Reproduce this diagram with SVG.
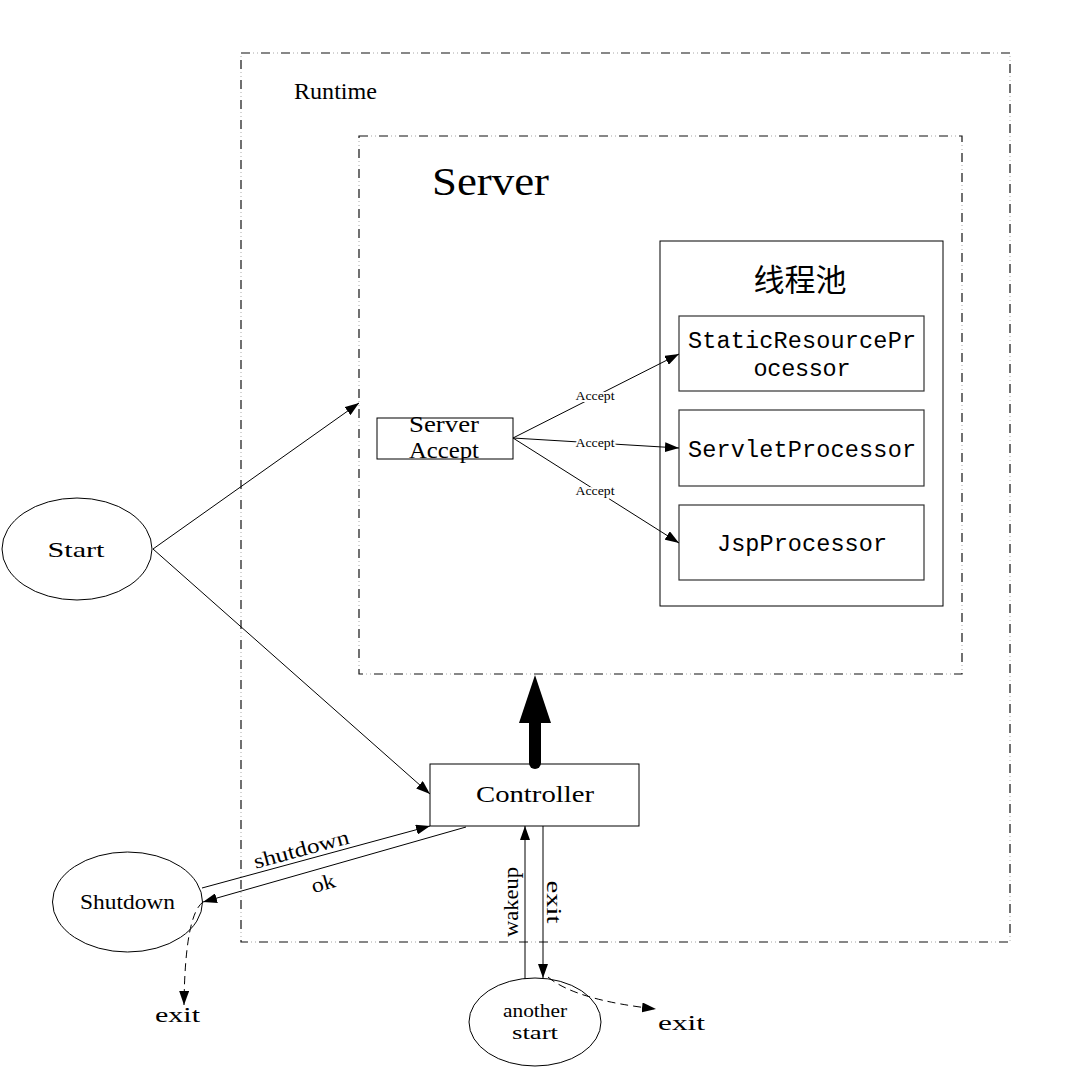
<svg xmlns="http://www.w3.org/2000/svg" width="1084" height="1068" viewBox="0 0 1084 1068">
<style>
.bg{fill:#ffffff}
.dda{fill:none;stroke:#111;stroke-width:1.2;stroke-dasharray:9 11}
.ddb{fill:none;stroke:#aaa;stroke-width:1;stroke-dasharray:1 3 1 15;stroke-dashoffset:-12}
.box{fill:#ffffff;stroke:#000;stroke-width:1}
.pbox{fill:#ffffff;stroke:#333;stroke-width:1.2}
.ell{fill:#ffffff;stroke:#000;stroke-width:1}
.ln{fill:none;stroke:#000;stroke-width:1}
.dash{fill:none;stroke:#000;stroke-width:1;stroke-dasharray:8 5}
.t{font-family:"Liberation Serif","DejaVu Serif",serif;fill:#000}
.m{font-family:"Liberation Mono","DejaVu Sans Mono",monospace;fill:#000}
.cjk{font-family:"Noto Sans CJK SC","Noto Sans",sans-serif;fill:#000}
.lbl{font-family:"Liberation Serif","DejaVu Serif",serif;fill:#000;stroke:#fff;stroke-width:4;paint-order:stroke;stroke-linejoin:round}
</style>
<defs>
<marker id="ah" markerWidth="14" markerHeight="10" refX="14" refY="5" orient="auto" markerUnits="userSpaceOnUse">
<path d="M0,0 L14,5 L0,10 z" fill="#000"/>
</marker>
</defs>
<rect class="bg" x="0" y="0" width="1084" height="1068"/>

<g id="runtime">
<rect class="ddb" x="241" y="53" width="769" height="889"/>
<rect class="dda" x="241" y="53" width="769" height="889"/>
<text class="t" x="294" y="99" font-size="24" textLength="83" lengthAdjust="spacingAndGlyphs">Runtime</text>
</g>

<g id="server">
<rect class="ddb" x="359" y="136" width="603" height="538"/>
<rect class="dda" x="359" y="136" width="603" height="538"/>
<text class="t" x="432" y="195" font-size="40" textLength="117" lengthAdjust="spacingAndGlyphs">Server</text>
</g>

<g id="threadpool">
<rect class="box" x="660" y="241" width="283" height="365"/>
<text class="cjk" x="800" y="291" font-size="31" text-anchor="middle">线程池</text>
</g>

<g id="static-resource-processor">
<rect class="pbox" x="679" y="316" width="245" height="75"/>
<text class="m" x="802" y="348" font-size="23.5" text-anchor="middle" textLength="228">StaticResourcePr</text>
<text class="m" x="802" y="376" font-size="23.5" text-anchor="middle" textLength="97">ocessor</text>
</g>

<g id="servlet-processor">
<rect class="pbox" x="679" y="410" width="245" height="76"/>
<text class="m" x="802" y="457" font-size="23.5" text-anchor="middle" textLength="228">ServletProcessor</text>
</g>

<g id="jsp-processor">
<rect class="pbox" x="679" y="505" width="245" height="75"/>
<text class="m" x="802" y="551" font-size="23.5" text-anchor="middle" textLength="170">JspProcessor</text>
</g>

<g id="server-accept">
<rect class="box" x="377" y="418" width="136" height="41"/>
<text class="t" x="444" y="432" font-size="24" text-anchor="middle" textLength="70" lengthAdjust="spacingAndGlyphs">Server</text>
<text class="t" x="444" y="458" font-size="24" text-anchor="middle" textLength="70" lengthAdjust="spacingAndGlyphs">Accept</text>
</g>

<g id="start">
<ellipse class="ell" cx="77" cy="549" rx="75" ry="51"/>
<text class="t" x="76" y="557" font-size="22" text-anchor="middle" textLength="57" lengthAdjust="spacingAndGlyphs">Start</text>
</g>

<g id="controller">
<rect class="box" x="430" y="764" width="209" height="62"/>
<text class="t" x="535" y="802" font-size="23" text-anchor="middle" textLength="118" lengthAdjust="spacingAndGlyphs">Controller</text>
</g>

<g id="shutdown">
<ellipse class="ell" cx="127.5" cy="902" rx="75" ry="50"/>
<text class="t" x="127.5" y="909" font-size="22" text-anchor="middle" textLength="95" lengthAdjust="spacingAndGlyphs">Shutdown</text>
</g>

<g id="another-start">
<ellipse class="ell" cx="535" cy="1022" rx="66" ry="44"/>
<text class="t" x="535" y="1017" font-size="18" text-anchor="middle" textLength="64" lengthAdjust="spacingAndGlyphs">another</text>
<text class="t" x="535" y="1039" font-size="18" text-anchor="middle" textLength="46" lengthAdjust="spacingAndGlyphs">start</text>
</g>

<g id="exit-left">
<text class="t" x="155" y="1022" font-size="21" textLength="45" lengthAdjust="spacingAndGlyphs">exit</text>
</g>

<g id="exit-right">
<text class="t" x="658" y="1030" font-size="21" textLength="47" lengthAdjust="spacingAndGlyphs">exit</text>
</g>

<g id="connectors">
<line class="ln" x1="513" y1="438" x2="679" y2="354" marker-end="url(#ah)"/>
<line class="ln" x1="513" y1="438" x2="679" y2="448" marker-end="url(#ah)"/>
<line class="ln" x1="513" y1="438" x2="679" y2="543" marker-end="url(#ah)"/>
<text class="lbl" x="595" y="400" font-size="13" text-anchor="middle" textLength="39" lengthAdjust="spacingAndGlyphs">Accept</text>
<text class="lbl" x="595" y="447" font-size="13" text-anchor="middle" textLength="39" lengthAdjust="spacingAndGlyphs">Accept</text>
<text class="lbl" x="595" y="495" font-size="13" text-anchor="middle" textLength="39" lengthAdjust="spacingAndGlyphs">Accept</text>

<line class="ln" x1="153" y1="549" x2="359" y2="403" marker-end="url(#ah)"/>
<line class="ln" x1="153" y1="549" x2="430" y2="794" marker-end="url(#ah)"/>

<path d="M535,675 L551,723 L519,723 Z" fill="#000"/>
<line x1="535" y1="720" x2="535" y2="763" stroke="#000" stroke-width="12" stroke-linecap="round"/>

<line class="ln" x1="202" y1="888" x2="430" y2="826" marker-end="url(#ah)"/>
<line class="ln" x1="466" y1="827" x2="203" y2="902" marker-end="url(#ah)"/>
<text class="t" x="303" y="856" font-size="21" text-anchor="middle" textLength="98" lengthAdjust="spacingAndGlyphs" transform="rotate(-15 303 856)">shutdown</text>
<text class="t" x="325" y="890" font-size="21" text-anchor="middle" textLength="24" lengthAdjust="spacingAndGlyphs" transform="rotate(-16 325 890)">ok</text>

<line class="ln" x1="525" y1="979" x2="525" y2="826" marker-end="url(#ah)"/>
<text class="t" x="518" y="902" font-size="21" text-anchor="middle" textLength="70" lengthAdjust="spacingAndGlyphs" transform="rotate(-90 518 902)">wakeup</text>
<line class="ln" x1="543" y1="826" x2="543" y2="978" marker-end="url(#ah)"/>
<text class="t" x="547" y="902" font-size="21" text-anchor="middle" textLength="43" lengthAdjust="spacingAndGlyphs" transform="rotate(90 547 902)">exit</text>

<path class="dash" d="M548,977 Q575,1000 656,1009" marker-end="url(#ah)"/>
<path class="dash" d="M203,902 Q185,915 184,1005" marker-end="url(#ah)"/>
</g>
</svg>
